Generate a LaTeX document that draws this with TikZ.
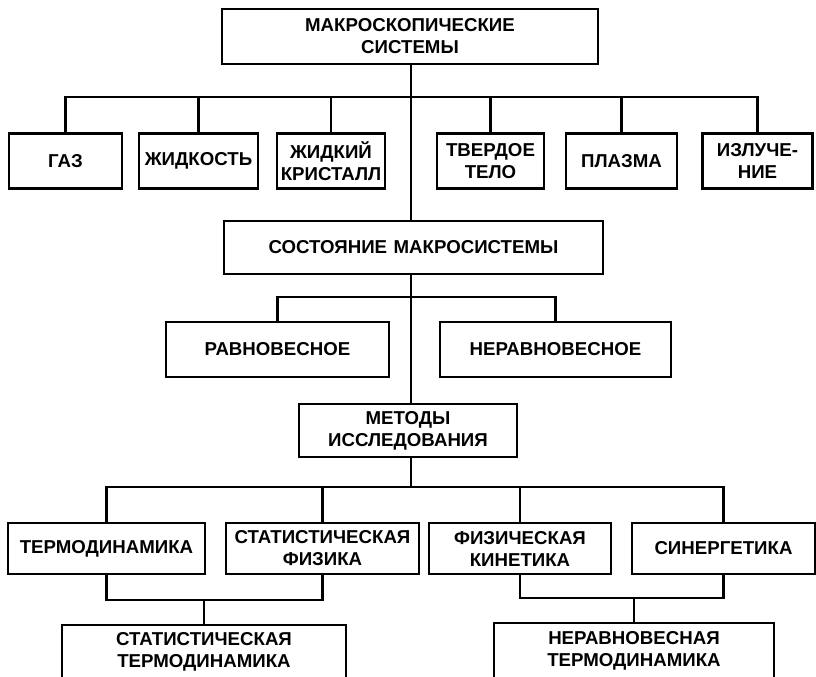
\documentclass[tikz,border=0pt]{standalone}
\usepackage{fontspec}
\setmainfont{Liberation Sans}
\begin{document}
\begin{tikzpicture}[x=0.75pt,y=-0.75pt,
  line width=1.9pt,
  box/.style 2 args={draw, rectangle, inner sep=0pt, align=center,
    minimum width=#1*0.75pt, minimum height=#2*0.75pt,
    font=\fontsize{14}{16.5}\selectfont\bfseries}]
\clip (0,0) rectangle (816,676);
\useasboundingbox (0,0) rectangle (816,676);
% level 0
\node[box={376}{55}] (top) at (410,36.5) {МАКРОСКОПИЧЕСКИЕ\\СИСТЕМЫ};
% level 1
\node[box={113}{55}] (gas) at (65.5,161) {ГАЗ};
\node[box={119}{55}] (liq) at (198.5,161) {ЖИДКОСТЬ};
\node[box={108}{55}] (lcr) at (331,161) {ЖИДКИЙ\\КРИСТАЛЛ};
\node[box={107}{55}] (sol) at (490.5,161) {ТВЕРДОЕ\\ТЕЛО};
\node[box={111}{55}] (pla) at (621.5,161) {ПЛАЗМА};
\node[box={110}{55}] (rad) at (757.5,161) {ИЗЛУЧЕ-\\НИЕ};
% level 2
\node[box={379}{53}] (state) at (413.5,247.5) {СОСТОЯНИЕ\hspace{0.35em}МАКРОСИСТЕМЫ};
\node[box={223}{55}] (eq) at (277.5,349.5) {РАВНОВЕСНОЕ};
\node[box={231}{55}] (neq) at (555.5,349.5) {НЕРАВНОВЕСНОЕ};
% level 3
\node[box={218}{53}] (meth) at (408,430.5) {МЕТОДЫ\\ИССЛЕДОВАНИЯ};
% level 4
\node[box={197}{51}] (thd) at (106.5,548.5) {ТЕРМОДИНАМИКА};
\node[box={193}{51}] (stp) at (322.5,548.5) {СТАТИСТИЧЕСКАЯ\\ФИЗИКА};
\node[box={182}{51}] (kin) at (520,548.5) {ФИЗИЧЕСКАЯ\\КИНЕТИКА};
\node[box={183}{51}] (syn) at (723.5,548.5) {СИНЕРГЕТИКА};
% level 5
\node[box={284}{54}] (stt) at (204,652) {СТАТИСТИЧЕСКАЯ\\ТЕРМОДИНАМИКА};
\node[box={280}{56}] (ntd) at (634,651) {НЕРАВНОВЕСНАЯ\\ТЕРМОДИНАМИКА};
% helper coordinates
\coordinate (spine) at (411,0);
\coordinate (b1) at (0,97);
\coordinate (b2) at (0,297);
\coordinate (b3) at (0,487);
\coordinate (b4) at (0,600);
\coordinate (b5) at (0,598);
% spine
\draw (top.south -| spine) -- (state.north -| spine);
\draw (state.south -| spine) -- (meth.north -| spine);
\draw (meth.south -| spine) -- (b3 -| spine);
% bus 1
\draw (gas.north) |- (b1 -| rad.north) -- (rad.north);
\draw (liq.north) -- (liq.north |- b1);
\draw (lcr.north) -- (lcr.north |- b1);
\draw (sol.north) -- (sol.north |- b1);
\draw (pla.north) -- (pla.north |- b1);
% bus 2
\draw (eq.north) |- (b2 -| neq.north) -- (neq.north);
% bus 3
\draw (thd.north) |- (b3 -| syn.north) -- (syn.north);
\draw (stp.north) -- (stp.north |- b3);
\draw (kin.north) -- (kin.north |- b3);
% lower left
\draw (thd.south) |- (b4 -| stp.south) -- (stp.south);
\draw (stt.north) -- (stt.north |- b4);
% lower right
\draw (kin.south) |- (b5 -| syn.south) -- (syn.south);
\draw (ntd.north) -- (ntd.north |- b5);
\end{tikzpicture}
\end{document}
